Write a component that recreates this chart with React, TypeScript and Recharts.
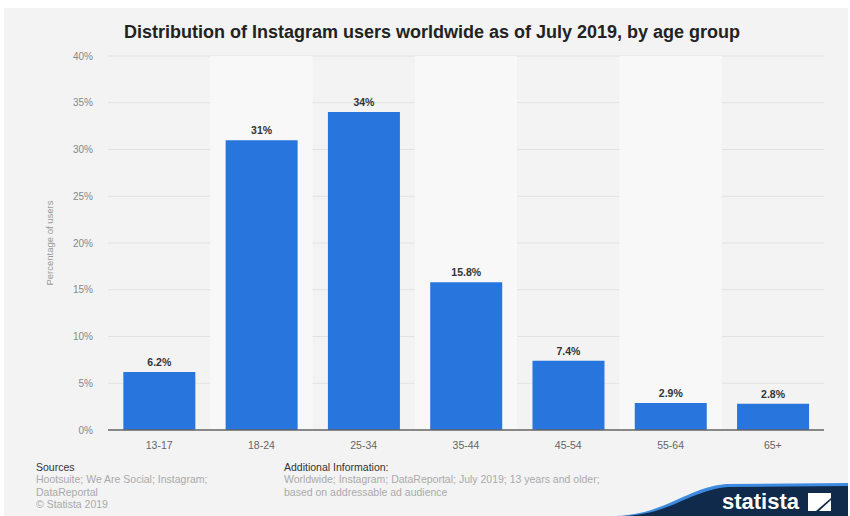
import { BarChart, Bar, XAxis, YAxis, CartesianGrid, ReferenceArea, LabelList } from 'recharts'

const ageGroups = ['13-17', '18-24', '25-34', '35-44', '45-54', '55-64', '65+']
const shares = [6.2, 31, 34, 15.8, 7.4, 2.9, 2.8]
const yTicks = [0, 5, 10, 15, 20, 25, 30, 35, 40]
const lightBands = ['18-24', '35-44', '55-64']

const data = ageGroups.map((age, i) => ({ age, share: shares[i] }))

const font = '"Liberation Sans", Arial, sans-serif'

function Logo() {
  return (
    <svg width={232} height={40} style={{ position: 'absolute', right: 0, bottom: 0 }}>
      <path d="M0 40 C 50 38, 70 12, 110 8 L 232 7 L 232 40 Z" fill="#3d8be0" />
      <path d="M8 40 C 55 38, 75 14, 112 11 L 232 10 L 232 40 Z" fill="#0f2a4a" />
      <text x={106} y={33} fill="#fff" fontSize={22} fontWeight="bold" fontFamily={font}>statista</text>
      <path d="M192 17 L 215 17 L 215 22 L 200 35 L 192 35 Z" fill="#fff" />
      <path d="M215 24 L 215 35 L 203 35 Z" fill="#fff" />
    </svg>
  )
}

export default function App() {
  return (
    <div style={{ position: 'absolute', left: 4, top: 8, width: 844, height: 508, background: '#f3f3f3', fontFamily: font, overflow: 'hidden' }}>
      <div style={{ position: 'absolute', top: 14, left: 0, width: 856, textAlign: 'center', fontSize: 18, fontWeight: 'bold', color: '#222' }}>
        Distribution of Instagram users worldwide as of July 2019, by age group
      </div>
      <BarChart width={844} height={460} data={data} margin={{ top: 48, right: 24, bottom: 8, left: 44 }} barCategoryGap="15%">
        {lightBands.map(b => (
          <ReferenceArea key={b} x1={b} x2={b} fill="#f8f8f8" fillOpacity={1} stroke="none" />
        ))}
        <CartesianGrid vertical={false} stroke="#e2e2e2" />
        <XAxis
          dataKey="age"
          height={30}
          tickLine={false}
          tickSize={0}
          tickMargin={12}
          axisLine={{ stroke: '#666', strokeWidth: 1.5 }}
          tick={{ fontSize: 10.5, fill: '#666', fontFamily: font }}
        />
        <YAxis
          width={60}
          domain={[0, 40]}
          ticks={yTicks}
          tickFormatter={(v: number) => `${v}%`}
          tickLine={false}
          axisLine={false}
          tickSize={0}
          tickMargin={15}
          tick={{ fontSize: 10, fill: '#888', fontFamily: font }}
          label={{ value: 'Percentage of users', angle: -90, position: 'insideLeft', offset: 2, style: { fontSize: 9.5, fill: '#999', fontFamily: font, textAnchor: 'middle' } }}
        />
        <Bar dataKey="share" fill="#2876dd" isAnimationActive={false}>
          <LabelList
            dataKey="share"
            position="top"
            offset={6}
            formatter={(v: number) => `${v}%`}
            style={{ fontSize: 10.5, fill: '#333', fontWeight: 'bold', fontFamily: font }}
          />
        </Bar>
      </BarChart>
      <div style={{ position: 'absolute', left: 32, top: 453, fontSize: 10.5, lineHeight: '12.3px', color: '#aaa' }}>
        <div style={{ color: '#333' }}>Sources</div>
        <div>Hootsuite; We Are Social; Instagram;</div>
        <div>DataReportal</div>
        <div>© Statista 2019</div>
      </div>
      <div style={{ position: 'absolute', left: 280, top: 453, fontSize: 10.5, lineHeight: '12.3px', color: '#aaa' }}>
        <div style={{ color: '#333' }}>Additional Information:</div>
        <div>Worldwide; Instagram; DataReportal; July 2019; 13 years and older;</div>
        <div>based on addressable ad audience</div>
      </div>
      <Logo />
    </div>
  )
}
